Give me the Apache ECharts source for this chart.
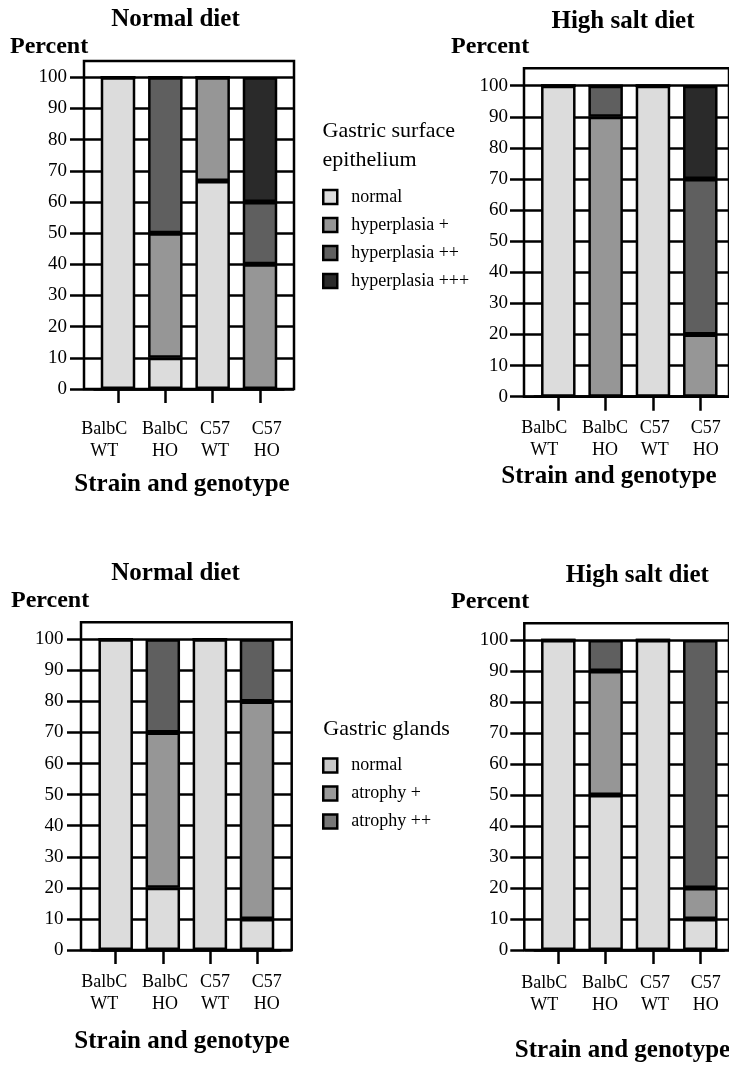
<!DOCTYPE html>
<html>
<head>
<meta charset="utf-8">
<script src="https://cdn.jsdelivr.net/npm/echarts@6/dist/echarts.min.js"></script>
<style>html,body{margin:0;padding:0;background:#fff}#c{width:729px;height:1070px}</style>
</head>
<body>
<div id="c"></div>
<script>
// ---------------- DATA ----------------
const categories = ['BalbC\nWT', 'BalbC\nHO', 'C57\nWT', 'C57\nHO'];
const surfaceLevels = ['normal', 'hyperplasia +', 'hyperplasia ++', 'hyperplasia +++'];
const glandLevels = ['normal', 'atrophy +', 'atrophy ++'];
const panelTitles = ['Normal diet', 'High salt diet', 'Normal diet', 'High salt diet'];

// Gastric surface epithelium, normal diet (percent per category)
const epiNormal_normal = [100, 10, 66.7, 0];
const epiNormal_hyp1   = [0, 40, 33.3, 40];
const epiNormal_hyp2   = [0, 50, 0, 20];
const epiNormal_hyp3   = [0, 0, 0, 40];
// Gastric surface epithelium, high salt diet
const epiSalt_normal = [100, 0, 100, 0];
const epiSalt_hyp1   = [0, 90, 0, 20];
const epiSalt_hyp2   = [0, 10, 0, 50];
const epiSalt_hyp3   = [0, 0, 0, 30];
// Gastric glands, normal diet
const glandNormal_normal = [100, 20, 100, 10];
const glandNormal_atr1   = [0, 50, 0, 70];
const glandNormal_atr2   = [0, 30, 0, 20];
// Gastric glands, high salt diet
const glandSalt_normal = [100, 50, 100, 10];
const glandSalt_atr1   = [0, 40, 0, 10];
const glandSalt_atr2   = [0, 10, 0, 80];

const levelColors = ['#dcdcdc', '#969696', '#5f5f5f', '#2a2a2a'];

// ---------------- LAYOUT ----------------
const FONT = '"Liberation Serif", "Times New Roman", serif';
const panels = [
  {frame: [84, 61, 294, 389], y100: 77.3, c0: 118, sp: 47.33, yMargin: 17, xMargin: 29.5, shifts: [-13.7, -0.3, 2.4, 6.7],
   levels: surfaceLevels, values: [epiNormal_normal, epiNormal_hyp1, epiNormal_hyp2, epiNormal_hyp3]},
  {frame: [524, 68.3, 734, 396.7], y100: 85.7, c0: 558.3, sp: 47.33, yMargin: 16, xMargin: 20.6, shifts: [-14, -0.7, 1.7, 5.5],
   levels: surfaceLevels, values: [epiSalt_normal, epiSalt_hyp1, epiSalt_hyp2, epiSalt_hyp3]},
  {frame: [81, 622.3, 291.7, 950], y100: 639.3, c0: 115.7, sp: 47.1, yMargin: 17.5, xMargin: 21.5, shifts: [-11.4, 2.3, 5, 9.7],
   levels: glandLevels, values: [glandNormal_normal, glandNormal_atr1, glandNormal_atr2]},
  {frame: [524.3, 623.3, 734, 950], y100: 640, c0: 558.3, sp: 47.33, yMargin: 16, xMargin: 22.3, shifts: [-14, -0.7, 2, 5.5],
   levels: glandLevels, values: [glandSalt_normal, glandSalt_atr1, glandSalt_atr2]}
];

const grid = [], xAxis = [], yAxis = [], series = [];
const black = '#000';
const LW = 2.5;

panels.forEach((p, pi) => {
  const [fl, ft, fr, fb] = p.frame;
  // frame grid
  grid.push({left: fl, top: ft, width: fr - fl, height: fb - ft, show: true, borderColor: black, borderWidth: LW, backgroundColor: 'transparent'});
  xAxis.push({gridIndex: pi * 3, type: 'value', show: false, min: 0, max: 1});
  yAxis.push({gridIndex: pi * 3, type: 'value', show: false, min: 0, max: 1});
  // y axis grid (full frame width, 0..100)
  grid.push({left: fl, top: p.y100, width: fr - fl, height: fb - p.y100, show: false});
  xAxis.push({gridIndex: pi * 3 + 1, type: 'value', show: false, min: 0, max: 1});
  yAxis.push({
    gridIndex: pi * 3 + 1, type: 'value', min: 0, max: 100, interval: 10,
    axisLine: {show: false},
    axisTick: {show: true, inside: false, length: 14, lineStyle: {color: black, width: LW}},
    axisLabel: {margin: p.yMargin, color: black, fontSize: 19, fontFamily: FONT},
    splitLine: {show: true, lineStyle: {color: black, width: LW}}
  });
  // bars grid
  const left = p.c0 - p.sp / 2;
  grid.push({left: left, top: p.y100, width: p.sp * 4, height: fb - p.y100, show: false});
  const rich = {};
  p.shifts.forEach((s, i) => {
    rich['s' + i] = {
      fontSize: 18, fontFamily: FONT, color: black, lineHeight: 22,
      padding: s < 0 ? [0, -2 * s, 0, 0] : [0, 0, 0, 2 * s]
    };
  });
  xAxis.push({
    gridIndex: pi * 3 + 2, type: 'category', data: categories,
    axisLine: {show: true, lineStyle: {color: black, width: LW}},
    axisTick: {show: true, alignWithLabel: true, inside: false, length: 14, lineStyle: {color: black, width: LW}},
    axisLabel: {
      margin: p.xMargin, interval: 0,
      formatter: (val, idx) => val.split('\n').map(s => '{s' + idx + '|' + s + '}').join('\n'),
      rich: rich
    },
    splitLine: {show: false}
  });
  yAxis.push({gridIndex: pi * 3 + 2, type: 'value', show: false, min: 0, max: 100});
  p.levels.forEach((name, li) => {
    series.push({
      type: 'bar', name: name, stack: 'panel' + pi,
      xAxisIndex: pi * 3 + 2, yAxisIndex: pi * 3 + 2,
      data: p.values[li], barWidth: 34.5,
      itemStyle: {color: levelColors[li], borderColor: black, borderWidth: LW},
      emphasis: {disabled: true}, animation: false
    });
  });
});

const txt = (text, x, y, size, bold, align) => ({
  type: 'text', x: x, y: y, silent: true,
  style: {text: text, fontSize: size, fontWeight: bold ? 'bold' : 'normal', fontFamily: FONT, fill: black,
          align: align || 'center', verticalAlign: 'middle', lineHeight: 29}
});

const graphic = [
  txt(panelTitles[0], 175.5, 19.5, 25, true),
  txt(panelTitles[1], 623, 21.3, 25, true),
  txt(panelTitles[2], 175.5, 574, 25, true),
  txt(panelTitles[3], 637.3, 575.5, 25, true),
  txt('Percent', 10, 46.5, 24, true, 'left'),
  txt('Percent', 451, 47, 24, true, 'left'),
  txt('Percent', 11, 601, 24, true, 'left'),
  txt('Percent', 451, 602, 24, true, 'left'),
  txt('Strain and genotype', 182, 485, 25, true),
  txt('Strain and genotype', 609, 477, 25, true),
  txt('Strain and genotype', 182, 1041.3, 25, true),
  txt('Strain and genotype', 622.5, 1051, 25, true),
  txt('Gastric surface\nepithelium', 322.5, 146.2, 22, false, 'left'),
  txt('Gastric glands', 323.3, 729.2, 22, false, 'left')
];

const legendBase = {
  orient: 'vertical', left: 322, itemWidth: 14, itemHeight: 14, itemGap: 10, icon: 'rect',
  selectedMode: false, padding: 0,
  itemStyle: {borderColor: black, borderWidth: LW},
  textStyle: {fontSize: 18, fontFamily: FONT, color: black, lineHeight: 18, padding: [0, 0, 0, 9]}
};

const option = {
  backgroundColor: '#fff',
  animation: false,
  grid: grid, xAxis: xAxis, yAxis: yAxis, series: series,
  graphic: graphic,
  legend: [
    Object.assign({}, legendBase, {top: 188, data: surfaceLevels}),
    Object.assign({}, legendBase, {top: 756.5, data: glandLevels.map((n, i) => ({name: n, itemStyle: {color: ['#c8c8c8', '#999999', '#777777'][i]}}))})
  ]
};

const chart = echarts.init(document.getElementById('c'), null, {renderer: 'canvas'});
chart.setOption(option);
</script>
</body>
</html>
